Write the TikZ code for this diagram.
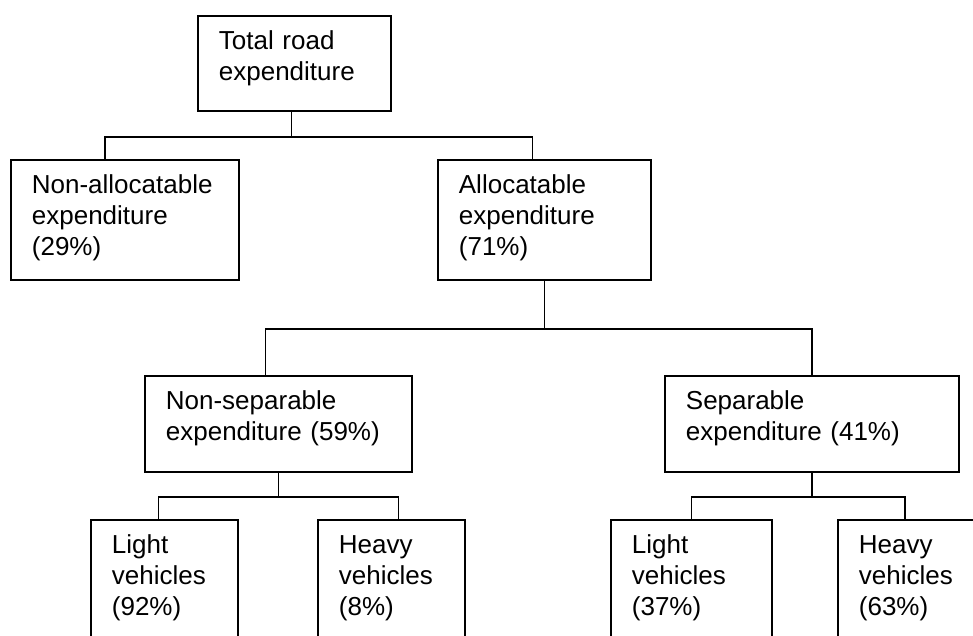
\documentclass[tikz,border=0pt]{standalone}
\usepackage{fontspec}
\setmainfont{Liberation Sans}
\begin{document}
\begin{tikzpicture}[x=1pt, y=-1pt, line width=1.8pt,
    font=\fontsize{26}{31}\selectfont,
    every node/.style={draw, rectangle, anchor=north west, align=left,
      inner xsep=21pt, inner ysep=0pt, text height=34pt}]
  \useasboundingbox (0,0) rectangle (973,635);
  \clip (0,0) rectangle (973,635);
  \node [text width=151pt, text depth=61pt] (total) at (197,15) {Total road\\expenditure};
  \node [text width=186pt, text depth=86pt] (nonalloc) at (10,159) {Non-allocatable\\expenditure\\(29\%)};
  \node [text width=171pt, text depth=86pt] (alloc) at (437,159) {Allocatable\\expenditure\\(71\%)};
  \node [text width=225pt, text depth=62pt] (nonsep) at (144,375) {Non-separable\\expenditure (59\%)};
  \node [text width=252pt, text depth=62pt] (sep) at (664,375) {Separable\\expenditure (41\%)};
  \node [text width=105pt, text depth=150pt] (lightns) at (90,519) {Light\\vehicles\\(92\%)};
  \node [text width=105pt, text depth=150pt] (heavyns) at (317,519) {Heavy\\vehicles\\(8\%)};
  \node [text width=119pt, text depth=150pt] (lights) at (610,519) {Light\\vehicles\\(37\%)};
  \node [text width=200pt, text depth=150pt] (heavys) at (837,519) {Heavy\\vehicles\\(63\%)};
  \draw ([xshift=-3pt]total.south) -- ++(0,25) -| ([xshift=-20pt]nonalloc.north);
  \draw ([xshift=-3pt]total.south) -- ++(0,25) -| ([xshift=-12pt]alloc.north);
  \draw (alloc.south) -- ++(0,48) -| ([xshift=-13pt]nonsep.north);
  \draw (alloc.south) -- ++(0,48) -| (sep.north);
  \draw (nonsep.south) -- ++(0,24) -| ([xshift=-6pt]lightns.north);
  \draw (nonsep.south) -- ++(0,24) -| ([xshift=7pt]heavyns.north);
  \draw (sep.south) -- ++(0,24) -| (lights.north);
  \draw (sep.south) -- ++(0,24) -| ([xshift=-54pt]heavys.north);
\end{tikzpicture}
\end{document}
